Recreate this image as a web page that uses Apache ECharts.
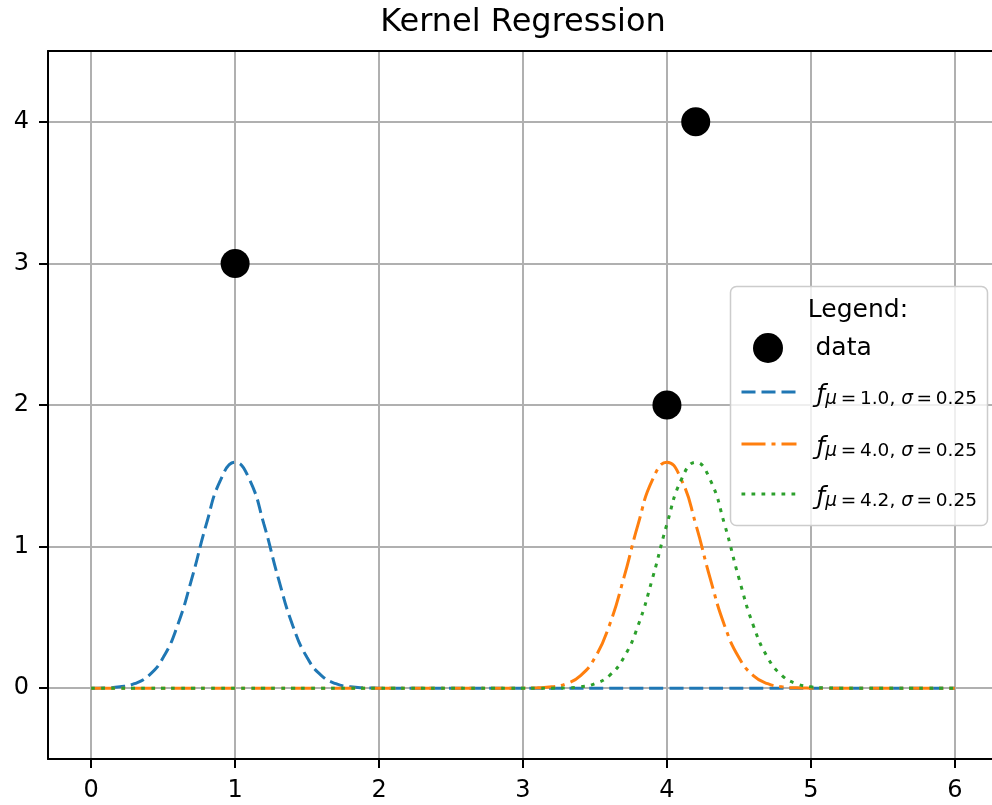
<!DOCTYPE html>
<html>
<head>
<meta charset="utf-8">
<script src="https://cdn.jsdelivr.net/npm/echarts@6/dist/echarts.min.js"></script>
<style>
html,body{margin:0;padding:0;background:#fff;overflow:hidden;width:992px;height:805px;}
#chart{width:998px;height:805px;}
</style>
</head>
<body>
<div id="chart"></div>
<script>
// ---- data ----
var titleText = 'Kernel Regression';
var legendTitle = 'Legend:';
var xTicks = [0, 1, 2, 3, 4, 5, 6];
var yTicks = [0, 1, 2, 3, 4];

var dataX = [1.0, 4.0, 4.2];
var dataY = [3.0, 2.0, 4.0];

var gridX = [0.0,0.1,0.2,0.3,0.4,0.5,0.6,0.7,0.8,0.9,
             1.0,1.1,1.2,1.3,1.4,1.5,1.6,1.7,1.8,1.9,
             2.0,2.1,2.2,2.3,2.4,2.5,2.6,2.7,2.8,2.9,
             3.0,3.1,3.2,3.3,3.4,3.5,3.6,3.7,3.8,3.9,
             4.0,4.1,4.2,4.3,4.4,4.5,4.6,4.7,4.8,4.9,
             5.0,5.1,5.2,5.3,5.4,5.5,5.6,5.7,5.8,5.9,6.0];

var kernel1 = [0.0005,0.0024,0.0095,0.0317,0.0895,0.2160,0.4436,0.7769,1.1587,1.4730,
               1.5958,1.4730,1.1587,0.7769,0.4436,0.2160,0.0895,0.0317,0.0095,0.0024,
               0.0005,0,0,0,0,0,0,0,0,0,
               0,0,0,0,0,0,0,0,0,0,
               0,0,0,0,0,0,0,0,0,0,
               0,0,0,0,0,0,0,0,0,0,0];
var kernel2 = [0,0,0,0,0,0,0,0,0,0,
               0,0,0,0,0,0,0,0,0,0,
               0,0,0,0,0,0,0,0,0,0,
               0.0005,0.0024,0.0095,0.0317,0.0895,0.2160,0.4436,0.7769,1.1587,1.4730,
               1.5958,1.4730,1.1587,0.7769,0.4436,0.2160,0.0895,0.0317,0.0095,0.0024,
               0.0005,0,0,0,0,0,0,0,0,0,0];
var kernel3 = [0,0,0,0,0,0,0,0,0,0,
               0,0,0,0,0,0,0,0,0,0,
               0,0,0,0,0,0,0,0,0,0,
               0,0,0.0005,0.0024,0.0095,0.0317,0.0895,0.2160,0.4436,0.7769,
               1.1587,1.4730,1.5958,1.4730,1.1587,0.7769,0.4436,0.2160,0.0895,0.0317,
               0.0095,0.0024,0.0005,0,0,0,0,0,0,0,0];

var seriesNames = ['data', 'k1', 'k2', 'k3'];
var kernelMu = ['1.0', '4.0', '4.2'];
var kernelSigma = ['0.25', '0.25', '0.25'];

// ---- chart ----
var FONT = 'DejaVu Sans';
function pairs(xs, ys) { return xs.map(function (x, i) { return [x, ys[i]]; }); }

var chart = echarts.init(document.getElementById('chart'), null, {renderer: 'canvas'});

var lineColors = ['#1f77b4', '#ff7f0e', '#2ca02c'];
var lineDashes = [[14, 6], [24, 6, 4, 6], [3.75, 6.25]];
var kernels = [kernel1, kernel2, kernel3];

var series = [{
  name: seriesNames[0],
  type: 'scatter',
  data: pairs(dataX, dataY),
  symbol: 'circle',
  symbolSize: 29,
  itemStyle: {color: '#000000', opacity: 1},
  z: 5
}];
kernels.forEach(function (k, i) {
  series.push({
    name: seriesNames[i + 1],
    type: 'line',
    data: pairs(gridX, k),
    symbol: 'none',
    showSymbol: false,
    smooth: 0.5,
    lineStyle: {color: lineColors[i], width: 3, type: lineDashes[i], cap: 'butt'},
    itemStyle: {color: lineColors[i]},
    z: 3
  });
});

var TS = '\u2009';
function legendFormatter(name) {
  var idx = seriesNames.indexOf(name);
  if (idx === 0) return '{t|data}';
  var j = idx - 1;
  return '{f|ƒ}{si|μ}{s|' + TS + '=' + TS + kernelMu[j] + ', }{si|σ}{s|' + TS + '=' + TS + kernelSigma[j] + '}';
}

var legendRich = {
  t: {fontFamily: FONT, fontSize: 25, color: '#000', lineHeight: 28, padding: [0, 0, 0, 15]},
  f: {fontFamily: FONT, fontSize: 25, fontStyle: 'italic', color: '#000', lineHeight: 23, padding: [7, 0, 0, 15]},
  si: {fontFamily: FONT, fontSize: 18.5, fontStyle: 'italic', color: '#000', lineHeight: 15, padding: [14.8, 0, 0, 0]},
  s: {fontFamily: FONT, fontSize: 18.5, color: '#000', lineHeight: 15, padding: [14.8, 0, 0, 0]}
};
var rowCenters = [348, 390, 442, 492];
var rowLefts = [753, 740, 740, 740];
var legends = seriesNames.map(function (n, i) {
  var item = {name: n};
  if (i === 0) { item.icon = 'circle'; }
  else { item.itemStyle = {opacity: 0}; }
  return {
    orient: 'vertical',
    left: rowLefts[i], top: rowCenters[i] - 15,
    padding: 0,
    itemGap: 0,
    itemWidth: 55, itemHeight: 30,
    selectedMode: false,
    data: [item],
    lineStyle: {width: 3},
    formatter: legendFormatter,
    textStyle: {color: '#000000', fontFamily: FONT, fontSize: 25, rich: legendRich},
    z: 10
  };
});

var option = {
  animation: false,
  backgroundColor: '#ffffff',
  grid: {left: 48, right: 0, top: 51, bottom: 46, show: false, containLabel: false},
  xAxis: [{
    type: 'value', min: -0.3, max: 6.3, position: 'bottom',
    axisLine: {show: true, onZero: false, lineStyle: {color: '#000000', width: 2}},
    axisTick: {show: true, length: 9, lineStyle: {color: '#000000', width: 2}, customValues: xTicks},
    axisLabel: {show: true, color: '#000000', fontFamily: FONT, fontSize: 24, margin: 20, customValues: xTicks},
    splitLine: {show: true, lineStyle: {color: '#b0b0b0', width: 2}}
  }, {
    type: 'value', min: -0.3, max: 6.3, position: 'top',
    axisLine: {show: true, onZero: false, lineStyle: {color: '#000000', width: 2}},
    axisTick: {show: false}, axisLabel: {show: false}, splitLine: {show: false}
  }],
  yAxis: {
    type: 'value', min: -0.5, max: 4.5,
    axisLine: {show: true, onZero: false, lineStyle: {color: '#000000', width: 2}},
    axisTick: {show: true, length: 9, lineStyle: {color: '#000000', width: 2}, customValues: yTicks},
    axisLabel: {show: true, color: '#000000', fontFamily: FONT, fontSize: 24, margin: 19, customValues: yTicks},
    splitLine: {show: true, lineStyle: {color: '#b0b0b0', width: 2}}
  },
  legend: legends,
  graphic: [
    {type: 'rect', z: 8, shape: {x: 730.5, y: 286.5, width: 257, height: 239, r: 6},
     style: {fill: 'rgba(255,255,255,0.8)', stroke: '#cccccc', lineWidth: 1.5}},
    {type: 'text', x: 523, y: 23, z: 20, style: {text: titleText, fill: '#000', font: '32px "DejaVu Sans"', textAlign: 'center', textVerticalAlign: 'middle'}},
    {type: 'text', x: 858, y: 310, z: 20, style: {text: legendTitle, fill: '#000', font: '25px "DejaVu Sans"', textAlign: 'center', textVerticalAlign: 'middle'}}
  ],
  series: series
};
chart.setOption(option);
</script>
</body>
</html>
